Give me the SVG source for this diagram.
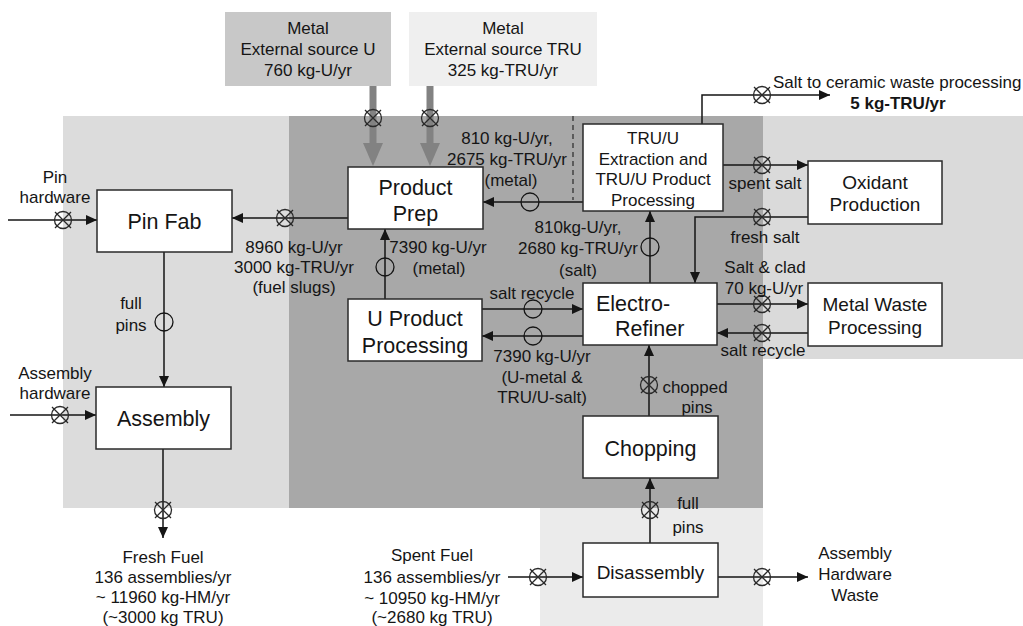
<svg xmlns="http://www.w3.org/2000/svg" xmlns:xlink="http://www.w3.org/1999/xlink" width="1023" height="626" viewBox="0 0 1023 626">
<style>
text{font-family:"Liberation Sans",Arial,sans-serif;fill:#151515}
.lbl{font-size:17px;text-anchor:middle}
.box{font-size:21.5px;text-anchor:middle}
.mid{font-size:19px;text-anchor:middle}
.node{fill:#fff;stroke:#2a2a2a;stroke-width:1.5}
.ln{fill:none;stroke:#151515;stroke-width:1.5}
.oc{fill:none;stroke:#151515;stroke-width:1.3}
</style>
<defs>
<marker id="ah" markerWidth="12" markerHeight="10" refX="11" refY="5" orient="auto" markerUnits="userSpaceOnUse">
<path d="M0,0 L11,5 L0,10 Z" fill="#151515"/>
</marker>
<g id="valve">
<circle r="8.5" fill="none" stroke="#2a2a2a" stroke-width="1.3"/>
<path d="M-8,-8 L8,8 M-8,8 L8,-8" stroke="#2a2a2a" stroke-width="1.3"/>
</g>
</defs>
<g id="backgrounds">
<rect x="63" y="116" width="227" height="392" fill="#dcdcdc"/>
<rect x="763" y="116" width="260" height="243" fill="#dadada"/>
<rect x="540" y="508" width="223" height="118" fill="#ebebeb"/>
<rect x="289" y="116" width="474" height="392" fill="#a8a8a8"/>
</g>
<g id="src-u">
<rect x="225" y="12" width="166" height="74" fill="#c8c8c8"/>
<text class="lbl" x="308" y="34">Metal</text>
<text class="lbl" x="308" y="55">External source U</text>
<text class="lbl" x="308" y="76">760 kg-U/yr</text>
</g>
<g id="src-tru">
<rect x="409" y="12" width="188" height="74" fill="#efefef"/>
<text class="lbl" x="503" y="34">Metal</text>
<text class="lbl" x="503" y="55">External source TRU</text>
<text class="lbl" x="503" y="76">325 kg-TRU/yr</text>
</g>
<g id="connectors">
<!-- thick gray supply arrows -->
<line x1="373" y1="86" x2="373" y2="146" stroke="#828282" stroke-width="7"/>
<path d="M363,143 L383,143 L373,166 Z" fill="#828282"/>
<line x1="430" y1="86" x2="430" y2="146" stroke="#828282" stroke-width="7"/>
<path d="M420,143 L440,143 L430,166 Z" fill="#828282"/>
<use xlink:href="#valve" x="373" y="118"/>
<use xlink:href="#valve" x="430" y="118"/>
<!-- dashed boundary -->
<line x1="573" y1="116" x2="573" y2="200" stroke="#333" stroke-width="1.3" stroke-dasharray="5,4"/>
<!-- pin hardware -->
<line class="ln" x1="8" y1="220" x2="97" y2="220" marker-end="url(#ah)"/>
<use xlink:href="#valve" x="63" y="220"/>
<!-- product prep to pin fab -->
<line class="ln" x1="348" y1="218" x2="232" y2="218" marker-end="url(#ah)"/>
<use xlink:href="#valve" x="285" y="218"/>
<!-- pin fab to assembly -->
<line class="ln" x1="164" y1="252" x2="164" y2="387" marker-end="url(#ah)"/>
<circle class="oc" cx="164" cy="322" r="9"/>
<!-- assembly hardware -->
<line class="ln" x1="10" y1="415" x2="96" y2="415" marker-end="url(#ah)"/>
<use xlink:href="#valve" x="60" y="415"/>
<!-- assembly to fresh fuel -->
<line class="ln" x1="163" y1="449" x2="163" y2="538" marker-end="url(#ah)"/>
<use xlink:href="#valve" x="163" y="510"/>
<!-- TRU/U to product prep -->
<line class="ln" x1="583" y1="202" x2="483" y2="202" marker-end="url(#ah)"/>
<circle class="oc" cx="530" cy="202" r="9"/>
<!-- ER to TRU/U -->
<line class="ln" x1="650" y1="283" x2="650" y2="211" marker-end="url(#ah)"/>
<circle class="oc" cx="650" cy="247" r="9"/>
<!-- U product to product prep -->
<line class="ln" x1="385" y1="299" x2="385" y2="229" marker-end="url(#ah)"/>
<circle class="oc" cx="385" cy="267" r="9"/>
<!-- salt recycle to ER -->
<line class="ln" x1="482" y1="309" x2="583" y2="309" marker-end="url(#ah)"/>
<circle class="oc" cx="533" cy="309" r="9"/>
<!-- ER to U product -->
<line class="ln" x1="583" y1="336" x2="482" y2="336" marker-end="url(#ah)"/>
<circle class="oc" cx="533" cy="336" r="9"/>
<!-- chopping to ER -->
<line class="ln" x1="649" y1="416" x2="649" y2="345" marker-end="url(#ah)"/>
<use xlink:href="#valve" x="649" y="385"/>
<!-- disassembly to chopping -->
<line class="ln" x1="650" y1="543" x2="650" y2="478" marker-end="url(#ah)"/>
<use xlink:href="#valve" x="650" y="510"/>
<!-- spent fuel to disassembly -->
<line class="ln" x1="508" y1="577" x2="583" y2="577" marker-end="url(#ah)"/>
<use xlink:href="#valve" x="538" y="577"/>
<!-- disassembly to waste -->
<line class="ln" x1="718" y1="577" x2="808" y2="577" marker-end="url(#ah)"/>
<use xlink:href="#valve" x="762" y="577"/>
<!-- spent salt -->
<line class="ln" x1="723" y1="165" x2="808" y2="165" marker-end="url(#ah)"/>
<use xlink:href="#valve" x="762" y="165"/>
<!-- fresh salt -->
<polyline class="ln" points="808,217 695,217 695,283" marker-end="url(#ah)"/>
<use xlink:href="#valve" x="762" y="217"/>
<!-- salt & clad -->
<line class="ln" x1="717" y1="304" x2="808" y2="304" marker-end="url(#ah)"/>
<use xlink:href="#valve" x="762" y="304"/>
<!-- metal waste salt recycle -->
<line class="ln" x1="808" y1="333" x2="717" y2="333" marker-end="url(#ah)"/>
<use xlink:href="#valve" x="762" y="333"/>
<!-- to ceramic waste -->
<polyline class="ln" points="702,124 702,95 830,95" marker-end="url(#ah)"/>
<use xlink:href="#valve" x="762" y="95"/>
</g>
<g id="labels">
<text class="lbl" x="55" y="183">Pin</text>
<text class="lbl" x="55" y="203">hardware</text>
<text class="lbl" x="55" y="379">Assembly</text>
<text class="lbl" x="55" y="399">hardware</text>
<text class="lbl" x="131" y="309">full</text>
<text class="lbl" x="131" y="331">pins</text>
<text class="lbl" x="294" y="253">8960 kg-U/yr</text>
<text class="lbl" x="294" y="273">3000 kg-TRU/yr</text>
<text class="lbl" x="294" y="293">(fuel slugs)</text>
<text class="lbl" x="507" y="144">810 kg-U/yr,</text>
<text class="lbl" x="507" y="165">2675 kg-TRU/yr</text>
<text class="lbl" x="511" y="186">(metal)</text>
<text class="lbl" x="438" y="253">7390 kg-U/yr</text>
<text class="lbl" x="439" y="274">(metal)</text>
<text class="lbl" x="578" y="233">810kg-U/yr,</text>
<text class="lbl" x="578" y="254">2680 kg-TRU/yr</text>
<text class="lbl" x="578" y="276">(salt)</text>
<text class="lbl" x="532" y="299">salt recycle</text>
<text class="lbl" x="542" y="362">7390 kg-U/yr</text>
<text class="lbl" x="542" y="383">(U-metal &amp;</text>
<text class="lbl" x="542" y="403">TRU/U-salt)</text>
<text class="lbl" x="695" y="393">chopped</text>
<text class="lbl" x="697" y="413">pins</text>
<text class="lbl" x="688" y="509">full</text>
<text class="lbl" x="688" y="533">pins</text>
<text class="lbl" x="765" y="189">spent salt</text>
<text class="lbl" x="765" y="243">fresh salt</text>
<text class="lbl" x="765" y="273">Salt &amp; clad</text>
<text class="lbl" x="764" y="294">70 kg-U/yr</text>
<text class="lbl" x="763" y="356">salt recycle</text>
<text x="773" y="88" font-size="17">Salt to ceramic waste processing</text>
<text class="lbl" x="898" y="109" font-weight="bold">5 kg-TRU/yr</text>
<text class="lbl" x="163" y="563">Fresh Fuel</text>
<text class="lbl" x="163" y="583">136 assemblies/yr</text>
<text class="lbl" x="163" y="603">~ 11960 kg-HM/yr</text>
<text class="lbl" x="163" y="623">(~3000 kg TRU)</text>
<text class="lbl" x="432" y="561">Spent Fuel</text>
<text class="lbl" x="432" y="583">136 assemblies/yr</text>
<text class="lbl" x="432" y="604">~ 10950 kg-HM/yr</text>
<text class="lbl" x="432" y="623">(~2680 kg TRU)</text>
<text class="lbl" x="855" y="559">Assembly</text>
<text class="lbl" x="855" y="580">Hardware</text>
<text class="lbl" x="855" y="601">Waste</text>
</g>
<g id="pin-fab">
<rect class="node" x="97" y="190" width="135" height="62"/>
<text class="box" x="164.5" y="229">Pin Fab</text>
</g>
<g id="assembly">
<rect class="node" x="96" y="387" width="135" height="62"/>
<text class="box" x="163.5" y="426">Assembly</text>
</g>
<g id="product-prep">
<rect class="node" x="348" y="167" width="135" height="62"/>
<text class="box" x="415.5" y="195">Product</text>
<text class="box" x="415.5" y="221">Prep</text>
</g>
<g id="u-product">
<rect class="node" x="348" y="299" width="134" height="62"/>
<text class="box" x="415" y="326">U Product</text>
<text class="box" x="415" y="353">Processing</text>
</g>
<g id="electro-refiner">
<rect class="node" x="583" y="283" width="134" height="62"/>
<text x="596" y="311" font-size="21.5">Electro-</text>
<text x="615" y="336" font-size="21.5">Refiner</text>
</g>
<g id="tru-u">
<rect class="node" x="583" y="124" width="140" height="87"/>
<text class="lbl" x="653" y="144">TRU/U</text>
<text class="lbl" x="653" y="165">Extraction and</text>
<text class="lbl" x="653" y="185">TRU/U Product</text>
<text class="lbl" x="653" y="206">Processing</text>
</g>
<g id="oxidant">
<rect class="node" x="808" y="161" width="134" height="63"/>
<text class="mid" x="875" y="189">Oxidant</text>
<text class="mid" x="875" y="211">Production</text>
</g>
<g id="metal-waste">
<rect class="node" x="808" y="283" width="134" height="63"/>
<text class="mid" x="875" y="311">Metal Waste</text>
<text class="mid" x="875" y="334">Processing</text>
</g>
<g id="chopping">
<rect class="node" x="583" y="416" width="135" height="62"/>
<text class="box" x="650.5" y="456">Chopping</text>
</g>
<g id="disassembly">
<rect class="node" x="583" y="543" width="135" height="54"/>
<text class="mid" x="650.5" y="579">Disassembly</text>
</g>
</svg>
